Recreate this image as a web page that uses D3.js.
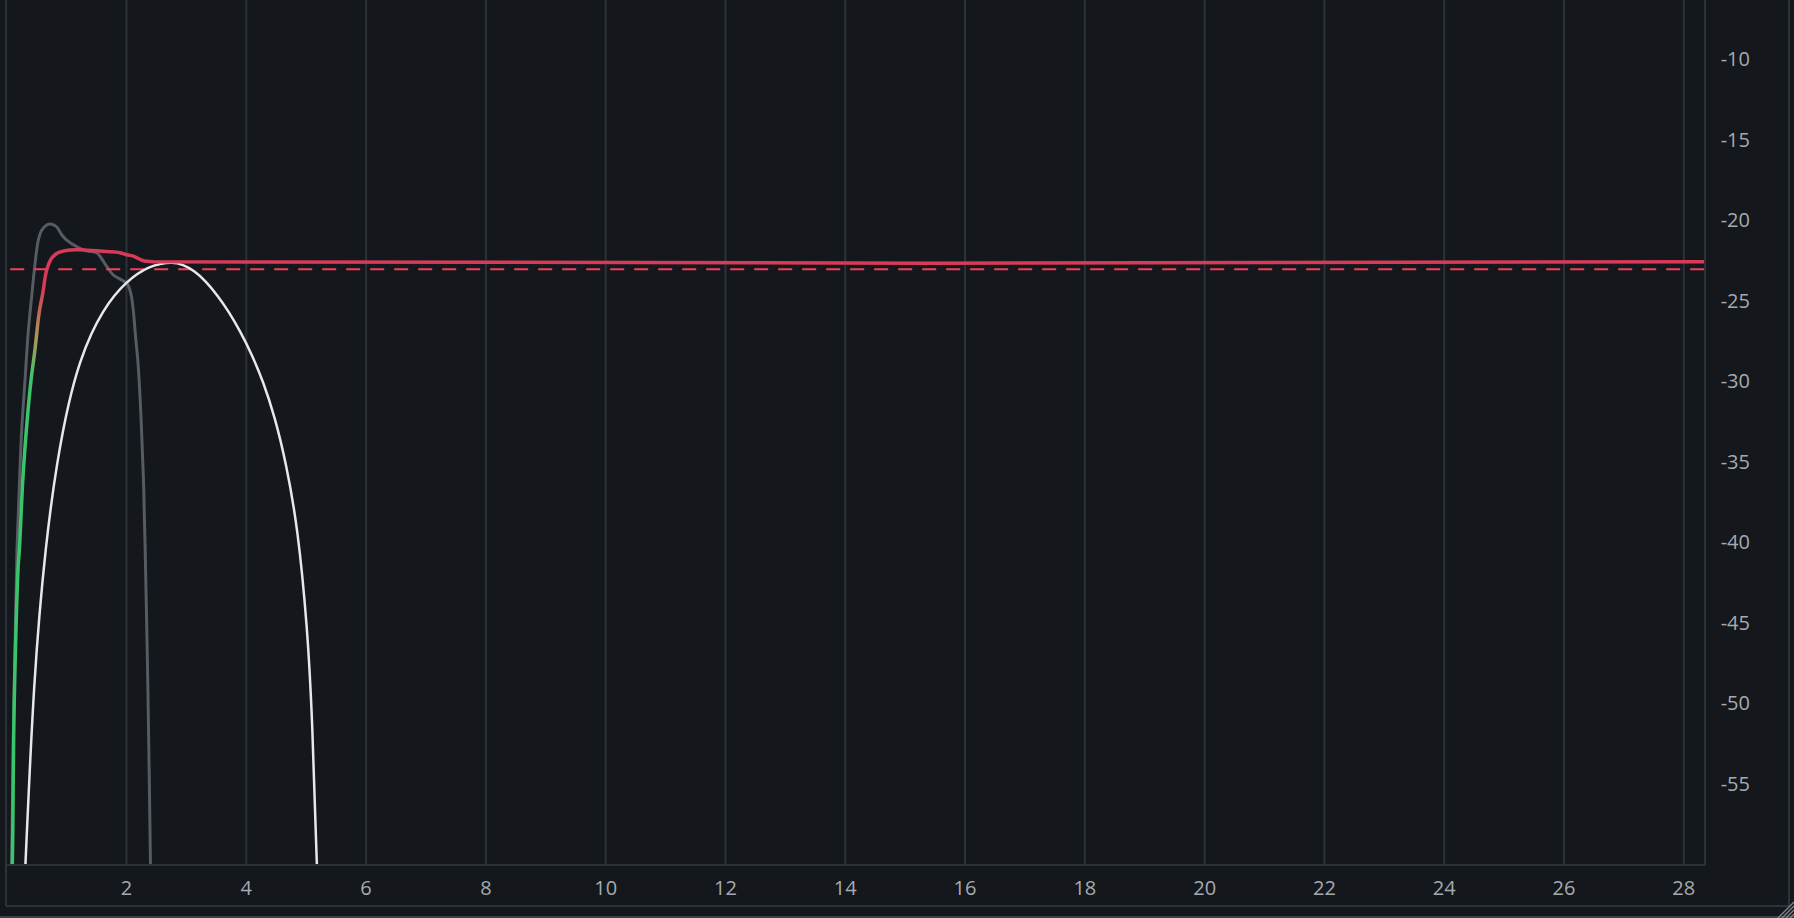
<!DOCTYPE html>
<html>
<head>
<meta charset="utf-8">
<script src="https://cdn.jsdelivr.net/npm/d3@7"></script>
<style>
html,body{margin:0;padding:0;background:#14171c;overflow:hidden;}
svg{display:block;}
</style>
</head>
<body>
<svg id="chart" width="1794" height="918"></svg>
<script>
// ---- data ----
const xTicks = [2,4,6,8,10,12,14,16,18,20,22,24,26,28];
const yTicks = [-10,-15,-20,-25,-30,-35,-40,-45,-50,-55];
const targetLevel = -23.1;

// short-term loudness (grey)
const grayT = [0.09,0.12,0.15,0.18,0.22,0.26,0.314,0.37,0.425,0.48,0.536,0.59,0.676,0.76,0.84,0.93,1.01,1.18,1.34,1.51,1.59,1.68,1.79,1.93,2.02,2.08,2.12,2.16,2.2,2.25,2.29,2.32,2.36,2.39,2.41];
const grayV = [-60.5,-52,-46,-40.5,-36.5,-33,-30,-26.9,-24.8,-22.8,-21.3,-20.7,-20.35,-20.3,-20.46,-20.97,-21.29,-21.7,-21.95,-22.07,-22.42,-22.94,-23.46,-23.77,-24.0,-24.6,-25.6,-27.3,-28.9,-32.2,-36,-40.5,-48,-55,-60.5];

// integrated loudness (green -> red)
const intT = [0.1,0.11,0.125,0.147,0.2,0.22,0.28,0.35,0.414,0.48,0.55,0.61,0.676,0.76,0.87,1.07,1.29,1.68,1.9,2.01,2.12,2.29,2.45,28.4];
const intV = [-60.5,-58,-52,-47.8,-41.5,-40.5,-36,-32.5,-30,-28.1,-25.8,-24.6,-23.15,-22.4,-22.07,-21.9,-21.9,-22.0,-22.07,-22.2,-22.28,-22.57,-22.63,-22.63];

// white curve
const whiteT = [0.31,0.469,0.661,0.851,1.042,1.234,1.424,1.616,1.806,1.998,2.19,2.38,2.571,2.761,2.952,3.143,3.334,3.526,3.716,3.908,4.099,4.289,4.48,4.671,4.863,5.015,5.11,5.2];
const whiteV = [-61,-49.0,-40.5,-35.2,-31.5,-28.9,-27.1,-25.76,-24.75,-23.98,-23.4,-23.0,-22.78,-22.7,-22.84,-23.24,-23.88,-24.74,-25.76,-26.99,-28.42,-30.13,-32.33,-35.27,-39.53,-45.23,-51.6,-61.5];

// ---- layout ----
const svg = d3.select("#chart");
const W = 1794, H = 918;
const plotLeft = 6, plotRight = 1705, plotTop = 0, plotBottom = 865;
const frameRight = 1789, frameBottom = 906;

const x = d3.scaleLinear().domain([0, 28]).range([6.2, 1683.3]);
const y = d3.scaleLinear().domain([-60, -10]).range([863.5, 58.3]);

const gridColor = "#2c323a";
const textColor = "#a6aaaf";

svg.append("rect").attr("width", W).attr("height", H).attr("fill", "#14171c");

// bottom strip line
svg.append("line").attr("x1",0).attr("x2",W).attr("y1",917).attr("y2",917)
  .attr("stroke","#3e4349").attr("stroke-width",2);

// vertical gridlines via axis
const gridAxis = d3.axisBottom(x).tickValues(xTicks).tickSize(plotBottom - plotTop).tickFormat("");
const gg = svg.append("g").attr("transform", `translate(0,${plotTop})`).call(gridAxis);
gg.select(".domain").remove();
gg.selectAll("line").attr("stroke", gridColor).attr("stroke-width", 2);

// frame lines
const frame = svg.append("g").attr("stroke", gridColor).attr("stroke-width", 2);
frame.append("line").attr("x1",plotLeft).attr("x2",plotLeft).attr("y1",0).attr("y2",frameBottom);
frame.append("line").attr("x1",plotLeft).attr("x2",frameRight).attr("y1",frameBottom).attr("y2",frameBottom);
frame.append("line").attr("x1",frameRight).attr("x2",frameRight).attr("y1",0).attr("y2",frameBottom);
frame.append("line").attr("x1",plotRight).attr("x2",plotRight).attr("y1",0).attr("y2",plotBottom);
frame.append("line").attr("x1",plotLeft).attr("x2",plotRight).attr("y1",plotBottom).attr("y2",plotBottom);

// resize grip
const grip = svg.append("g").attr("stroke", "#7d8288").attr("stroke-width", 1.5);
[4,8,12,16].forEach(o => {
  grip.append("line").attr("x1", W).attr("y1", H - o).attr("x2", W - o).attr("y2", H);
});

// clip
svg.append("clipPath").attr("id","clip").append("rect")
  .attr("x", plotLeft + 1).attr("y", plotTop).attr("width", plotRight - plotLeft - 2).attr("height", plotBottom - plotTop - 1);

// gradient for integrated line
const defs = svg.append("defs");
const grad = defs.append("linearGradient").attr("id","intGrad")
  .attr("gradientUnits","userSpaceOnUse")
  .attr("x1",0).attr("x2",0).attr("y1", y(-30)).attr("y2", y(-24.3));
grad.append("stop").attr("offset","0%").attr("stop-color","#3cc46a");
grad.append("stop").attr("offset","45%").attr("stop-color","#a89a55");
grad.append("stop").attr("offset","100%").attr("stop-color","#d83a58");

const lines = svg.append("g").attr("clip-path","url(#clip)");
const lineGen = d3.line().x(d => x(d[0])).y(d => y(d[1])).curve(d3.curveCatmullRom.alpha(0.5));
const smoothGen = d3.line().x(d => x(d[0])).y(d => y(d[1])).curve(d3.curveNatural);

const zip = (a,b) => a.map((v,i) => [v, b[i]]);

lines.append("path").datum(zip(grayT, grayV)).attr("d", lineGen)
  .attr("fill","none").attr("stroke","#555c64").attr("stroke-width",3);

lines.append("line").attr("x1", x(0)).attr("x2", plotRight)
  .attr("y1", y(targetLevel)).attr("y2", y(targetLevel))
  .attr("stroke","#f2405e").attr("stroke-width",2.2).attr("stroke-dasharray","14,10")
  .attr("stroke-dashoffset", -4);

lines.append("path").datum(zip(whiteT, whiteV)).attr("d", smoothGen)
  .attr("fill","none").attr("stroke","#e8e8e8").attr("stroke-width",2.5);

lines.append("path").datum(zip(intT, intV)).attr("d", lineGen)
  .attr("fill","none").attr("stroke","url(#intGrad)").attr("stroke-width",3.5);

// axis labels
const fontFam = "'Open Sans', 'Noto Sans', sans-serif";
const xa = svg.append("g").attr("transform", `translate(0,${plotBottom})`)
  .call(d3.axisBottom(x).tickValues(xTicks).tickSize(0).tickPadding(0).tickFormat(d3.format("d")));
xa.select(".domain").remove();
xa.selectAll("text").attr("fill", textColor).attr("font-size", 20).attr("font-family", fontFam)
  .attr("dy", null).attr("y", 30);

const ya = svg.append("g").attr("transform", `translate(1750,0)`)
  .call(d3.axisLeft(y).tickValues(yTicks).tickSize(0).tickPadding(0).tickFormat(d => d3.format("d")(d).replace("−","-")));
ya.select(".domain").remove();
ya.selectAll("text").attr("fill", textColor).attr("font-size", 20).attr("font-family", fontFam)
  .attr("dy", "0.36em");
</script>
</body>
</html>
